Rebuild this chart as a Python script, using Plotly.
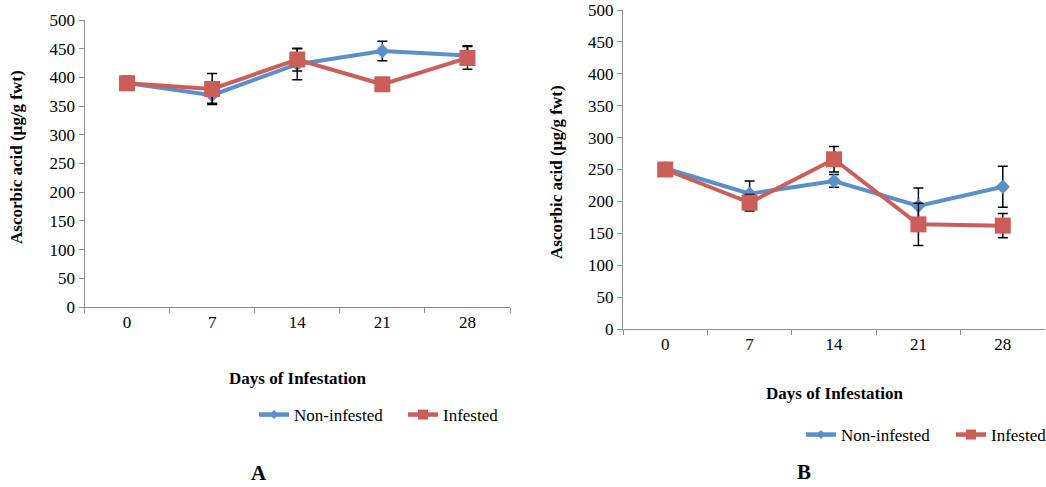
import plotly.graph_objects as go

days = ["0", "7", "14", "21", "28"]

# Panel A
a_non = [390, 369, 423, 446, 438]
a_non_err = [12, 14, 27, 17, 17]
a_inf = [390, 380, 431, 388, 434]
a_inf_err = [10, 27, 20, 5, 20]

# Panel B
b_non = [252, 212, 232, 193, 223]
b_non_err = [5, 20, 10, 28, 32]
b_inf = [250, 198, 266, 164, 162]
b_inf_err = [5, 13, 20, 33, 19]

BLUE = "#5A8FCB"
RED = "#CB5E58"
FONT = "Liberation Serif"

W, H = 1046, 487

fig = go.Figure()

def add(x, y, err, name, color, symbol, size, lsize, xa, ya, legend):
    fig.add_trace(go.Scatter(
        x=x, y=y, name=name, mode="lines+markers", showlegend=False,
        line=dict(color=color, width=4),
        marker=dict(symbol=symbol, size=size, color=color),
        error_y=dict(type="data", array=err, visible=True, color="black",
                     thickness=1.5, width=5),
        xaxis=xa, yaxis=ya,
    ))
    # legend-only entry with smaller marker
    fig.add_trace(go.Scatter(
        x=[None], y=[None], name=name, mode="lines+markers", showlegend=True,
        line=dict(color=color, width=4.5),
        marker=dict(symbol=symbol, size=lsize, color=color),
        xaxis=xa, yaxis=ya, legend=legend, hoverinfo="skip",
    ))

add(days, a_non, a_non_err, "Non-infested", BLUE, "diamond", 11, 7, "x", "y", "legend")
add(days, a_inf, a_inf_err, "Infested", RED, "square", 16, 10, "x", "y", "legend2")
add(days, b_non, b_non_err, "Non-infested", BLUE, "diamond", 11, 7, "x2", "y2", "legend3")
add(days, b_inf, b_inf_err, "Infested", RED, "square", 16, 10, "x2", "y2", "legend4")

def px_x(p):
    return p / W

def px_y(p):
    return 1 - p / H

axis_common = dict(
    showline=True, linecolor="#8c8c8c", linewidth=1, showgrid=False,
    zeroline=False, ticks="outside", tickcolor="#8c8c8c", ticklen=5,
    automargin=False,
    tickfont=dict(family=FONT, size=17, color="black"),
)

def leg(x, y):
    return dict(orientation="h", x=px_x(x), y=px_y(y), xanchor="left",
                yanchor="middle", font=dict(family=FONT, size=17, color="black"),
                bgcolor="rgba(0,0,0,0)")

fig.update_layout(
    width=W, height=H,
    margin=dict(l=0, r=0, t=0, b=0, autoexpand=False),
    paper_bgcolor="white", plot_bgcolor="white",
    font=dict(family=FONT, color="black"),
    xaxis=dict(domain=[px_x(84.5), px_x(510)], anchor="y", type="category",
               range=[-0.5, 4.5], tickson="boundaries", **axis_common),
    yaxis=dict(domain=[px_y(307), px_y(20)], anchor="x", range=[0, 500],
               dtick=50, **axis_common),
    xaxis2=dict(domain=[px_x(623), px_x(1045)], anchor="y2", type="category",
                range=[-0.5, 4.5], tickson="boundaries", **axis_common),
    yaxis2=dict(domain=[px_y(329), px_y(10)], anchor="x2", range=[0, 500],
                dtick=50, **axis_common),
    legend=leg(254, 415),
    legend2=leg(403, 415),
    legend3=leg(801, 435),
    legend4=leg(951, 435),
    showlegend=True,
)

title_font = dict(family=FONT, size=17, color="black")
anns = [
    dict(text="<b>Days of Infestation</b>", x=px_x(297), y=px_y(378)),
    dict(text="<b>Days of Infestation</b>", x=px_x(834), y=px_y(393)),
    dict(text="<b>Ascorbic acid (µg/g fwt)</b>", x=px_x(16), y=px_y(157), textangle=-90),
    dict(text="<b>Ascorbic acid (µg/g fwt)</b>", x=px_x(556), y=px_y(172), textangle=-90),
]
for a in anns:
    fig.add_annotation(xref="paper", yref="paper", showarrow=False,
                       xanchor="center", yanchor="middle", font=title_font, **a)

for t, x, y in [("A", 259, 473), ("B", 804, 472)]:
    fig.add_annotation(xref="paper", yref="paper", showarrow=False,
                       xanchor="center", yanchor="middle",
                       text=f"<b>{t}</b>", x=px_x(x), y=px_y(y),
                       font=dict(family=FONT, size=21, color="black"))

fig.write_html("out.html")
